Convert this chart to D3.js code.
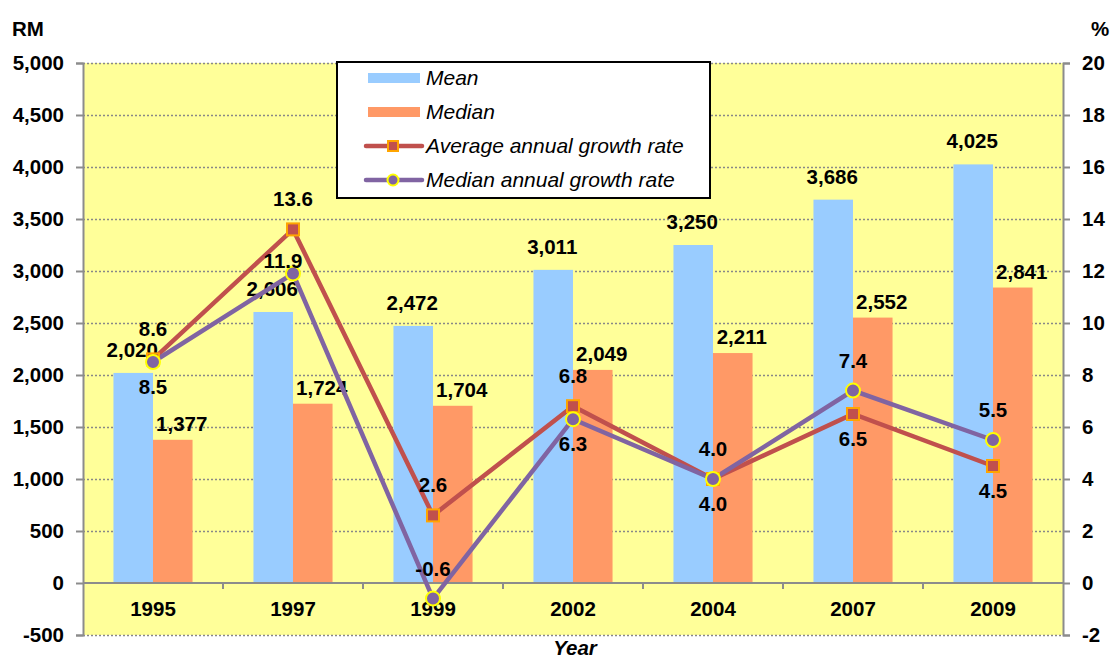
<!DOCTYPE html>
<html>
<head>
<meta charset="utf-8">
<script src="https://cdn.jsdelivr.net/npm/d3@7"></script>
<style>
  body { margin: 0; background: #fff; }
  text { font-family: "Liberation Sans", Arial, sans-serif; }
</style>
</head>
<body>
<div id="chart"></div>
<script>
// household income data
var years = ["1995", "1997", "1999", "2002", "2004", "2007", "2009"];
var meanIncome = [2020, 2606, 2472, 3011, 3250, 3686, 4025];
var medianIncome = [1377, 1724, 1704, 2049, 2211, 2552, 2841];
var avgGrowth = [8.6, 13.6, 2.6, 6.8, 4.0, 6.5, 4.5];
var medGrowth = [8.5, 11.9, -0.6, 6.3, 4.0, 7.4, 5.5];
var avgLabelSide = ["above", "above", "above", "above", "above", "below", "below"];
var medLabelSide = ["below", "left", "above", "below", "below", "above", "above"];
var leftTicks = [-500, 0, 500, 1000, 1500, 2000, 2500, 3000, 3500, 4000, 4500, 5000];
var rightTicks = [-2, 0, 2, 4, 6, 8, 10, 12, 14, 16, 18, 20];

var W = 1112, H = 659;
var plot = {left: 83, right: 1063, top: 63, bottom: 635};
var fs = 20.5;

var svg = d3.select("#chart").append("svg")
    .attr("width", W)
    .attr("height", H);

var x = d3.scaleBand()
    .domain(years)
    .range([plot.left, plot.right]);

var sub = d3.scaleBand()
    .domain(["mean", "median"])
    .range([0, x.bandwidth()])
    .paddingOuter(0.77);

var y = d3.scaleLinear()
    .domain([-500, 5000])
    .range([plot.bottom, plot.top]);

var y2 = d3.scaleLinear()
    .domain([-2, 20])
    .range([plot.bottom, plot.top]);

// hyphen instead of unicode minus, as in the original
var fmt = function(v){ return d3.format(",")(v).replace("\u2212", "-"); };
var fmt1 = function(v){ return d3.format(".1f")(v).replace("\u2212", "-"); };

// plot background
svg.append("rect")
    .attr("x", plot.left)
    .attr("y", plot.top)
    .attr("width", plot.right - plot.left)
    .attr("height", plot.bottom - plot.top)
    .attr("fill", "#FFFF99");

// grid
svg.append("g").selectAll("line")
    .data(leftTicks.filter(function(d){ return d != 0; }))
    .enter().append("line")
    .attr("x1", plot.left)
    .attr("x2", plot.right)
    .attr("y1", function(d){ return y(d) + 0.5; })
    .attr("y2", function(d){ return y(d) + 0.5; })
    .attr("stroke", "#888")
    .attr("stroke-width", 1.5)
    .attr("stroke-dasharray", "2,2");

// bars
var groups = svg.append("g").selectAll("g")
    .data(years)
    .enter().append("g")
    .attr("transform", function(d){ return "translate(" + x(d) + ",0)"; });

groups.append("rect")
    .attr("x", sub("mean"))
    .attr("width", sub.bandwidth())
    .attr("y", function(d, i){ return y(meanIncome[i]); })
    .attr("height", function(d, i){ return y(0) - y(meanIncome[i]); })
    .attr("fill", "#99CCFF");

groups.append("rect")
    .attr("x", sub("median"))
    .attr("width", sub.bandwidth())
    .attr("y", function(d, i){ return y(medianIncome[i]); })
    .attr("height", function(d, i){ return y(0) - y(medianIncome[i]); })
    .attr("fill", "#FF9966");

// axes
var axisColor = "#8c8c8c";
var leftAxis = svg.append("g")
    .attr("transform", "translate(" + plot.left + ",0)")
    .call(d3.axisLeft(y).tickValues(leftTicks).tickFormat(fmt).tickSize(7).tickPadding(12));

var rightAxis = svg.append("g")
    .attr("transform", "translate(" + plot.right + ",0)")
    .call(d3.axisRight(y2).tickValues(rightTicks).tickFormat(fmt).tickSize(7).tickPadding(12));

[leftAxis, rightAxis].forEach(function(a){
    a.select(".domain").attr("stroke", axisColor).attr("stroke-width", 2);
    a.selectAll(".tick line").attr("stroke", axisColor).attr("stroke-width", 2);
    a.selectAll(".tick text")
        .attr("font-size", fs)
        .attr("font-weight", "bold")
        .attr("fill", "#000")
        .attr("font-family", "Liberation Sans, Arial, sans-serif");
});

// x axis along zero
svg.append("line")
    .attr("x1", plot.left)
    .attr("x2", plot.right)
    .attr("y1", y(0))
    .attr("y2", y(0))
    .attr("stroke", axisColor)
    .attr("stroke-width", 2);

svg.append("g").selectAll("line")
    .data(years.slice(1))
    .enter().append("line")
    .attr("x1", function(d){ return x(d); })
    .attr("x2", function(d){ return x(d); })
    .attr("y1", y(0))
    .attr("y2", y(0) + 6)
    .attr("stroke", axisColor)
    .attr("stroke-width", 2);

svg.append("g").selectAll("text")
    .data(years)
    .enter().append("text")
    .attr("x", function(d){ return x(d) + x.bandwidth() / 2; })
    .attr("y", y(0) + 33)
    .attr("text-anchor", "middle")
    .attr("font-size", fs)
    .attr("font-weight", "bold")
    .text(function(d){ return d; });

// axis titles
svg.append("text")
    .attr("x", 12).attr("y", 36)
    .attr("font-size", fs).attr("font-weight", "bold")
    .text("RM");

svg.append("text")
    .attr("x", 1091).attr("y", 36)
    .attr("font-size", fs).attr("font-weight", "bold")
    .text("%");

svg.append("text")
    .attr("x", (plot.left + plot.right) / 2 + 2)
    .attr("y", 655)
    .attr("text-anchor", "middle")
    .attr("font-size", fs)
    .attr("font-weight", "bold")
    .attr("font-style", "italic")
    .text("Year");

// bar labels
groups.append("text")
    .attr("x", sub("mean") + sub.bandwidth() / 2 - 1)
    .attr("y", function(d, i){ return y(meanIncome[i]) - 16; })
    .attr("text-anchor", "middle")
    .attr("font-size", fs)
    .attr("font-weight", "bold")
    .text(function(d, i){ return fmt(meanIncome[i]); });

groups.append("text")
    .attr("x", sub("median") + sub.bandwidth() / 2 + 9)
    .attr("y", function(d, i){ return y(medianIncome[i]) - 9; })
    .attr("text-anchor", "middle")
    .attr("font-size", fs)
    .attr("font-weight", "bold")
    .text(function(d, i){ return fmt(medianIncome[i]); });

// growth lines
var cx = function(d, i){ return x(years[i]) + x.bandwidth() / 2; };

var line = d3.line()
    .x(function(d, i){ return cx(d, i); })
    .y(function(d){ return y2(d); });

svg.append("path")
    .datum(avgGrowth)
    .attr("d", line)
    .attr("fill", "none")
    .attr("stroke", "#C0504D")
    .attr("stroke-width", 4.5);

svg.append("path")
    .datum(medGrowth)
    .attr("d", line)
    .attr("fill", "none")
    .attr("stroke", "#8064A2")
    .attr("stroke-width", 4.5);

svg.append("g").selectAll("rect")
    .data(avgGrowth)
    .enter().append("rect")
    .attr("x", function(d, i){ return cx(d, i) - 6; })
    .attr("y", function(d){ return y2(d) - 6; })
    .attr("width", 12)
    .attr("height", 12)
    .attr("fill", "#C0504D")
    .attr("stroke", "#FFA500")
    .attr("stroke-width", 2);

svg.append("g").selectAll("circle")
    .data(medGrowth)
    .enter().append("circle")
    .attr("cx", cx)
    .attr("cy", function(d){ return y2(d); })
    .attr("r", 7)
    .attr("fill", "#8064A2")
    .attr("stroke", "#FFFF00")
    .attr("stroke-width", 2);

function growthLabels(values, sides){
    svg.append("g").selectAll("text")
        .data(values)
        .enter().append("text")
        .attr("x", function(d, i){ return cx(d, i) + (sides[i] == "left" ? -10 : 0); })
        .attr("y", function(d, i){
            if (sides[i] == "above") return y2(d) - 23;
            if (sides[i] == "left") return y2(d) - 6;
            return y2(d) + 32;
        })
        .attr("text-anchor", "middle")
        .attr("font-size", fs)
        .attr("font-weight", "bold")
        .text(function(d){ return fmt1(d); });
}
growthLabels(avgGrowth, avgLabelSide);
growthLabels(medGrowth, medLabelSide);

// legend
var legend = svg.append("g").attr("transform", "translate(337,62)");
legend.append("rect")
    .attr("width", 373)
    .attr("height", 136)
    .attr("fill", "#fff")
    .attr("stroke", "#000")
    .attr("stroke-width", 2);

var items = [
    {label: "Mean", type: "bar", color: "#99CCFF"},
    {label: "Median", type: "bar", color: "#FF9966"},
    {label: "Average annual growth rate", type: "square", color: "#C0504D", edge: "#FFA500"},
    {label: "Median annual growth rate", type: "circle", color: "#8064A2", edge: "#FFFF00"}
];

items.forEach(function(d, i){
    var ly = 16 + i * 34;
    if (d.type == "bar") {
        legend.append("rect")
            .attr("x", 31).attr("y", ly - 5)
            .attr("width", 52).attr("height", 10)
            .attr("fill", d.color);
    } else {
        legend.append("line")
            .attr("x1", 29).attr("x2", 85)
            .attr("y1", ly).attr("y2", ly)
            .attr("stroke", d.color)
            .attr("stroke-width", 4.5)
            .attr("stroke-linecap", "round");
        if (d.type == "square") {
            legend.append("rect")
                .attr("x", 51).attr("y", ly - 5)
                .attr("width", 10).attr("height", 10)
                .attr("fill", d.color)
                .attr("stroke", d.edge).attr("stroke-width", 2);
        } else {
            legend.append("circle")
                .attr("cx", 56).attr("cy", ly)
                .attr("r", 5.5)
                .attr("fill", d.color)
                .attr("stroke", d.edge).attr("stroke-width", 2);
        }
    }
    legend.append("text")
        .attr("x", 89)
        .attr("y", ly + 7)
        .attr("font-size", 21)
        .attr("font-style", "italic")
        .text(d.label);
});
</script>
</body>
</html>
